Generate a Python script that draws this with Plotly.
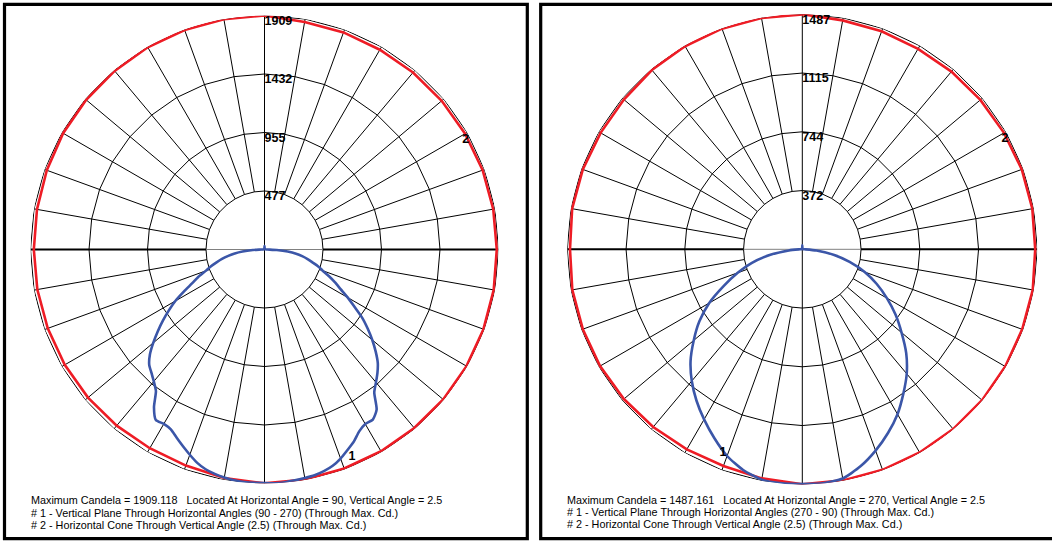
import plotly.graph_objects as go

# ---------------- data ----------------
max_cd_left = 1909.118
max_cd_right = 1487.161
ring_labels_left = ["477", "955", "1432", "1909"]
ring_labels_right = ["372", "744", "1115", "1487"]

# Curve #2 : horizontal cone through vertical angle 2.5 (angle drawn clockwise from top)
cone_angles = [0, 10, 20, 30, 40, 50, 60, 70, 80, 90, 100, 110, 120, 130, 140, 150, 160, 170,
               180, 190, 200, 210, 220, 230, 240, 250, 260, 270, 280, 290, 300, 310, 320, 330, 340, 350]
cone_cd_left = [1909, 1885, 1885, 1882, 1885, 1887, 1890, 1894, 1895, 1895, 1899, 1901, 1903, 1903,
                1901, 1901, 1901, 1905, 1908, 1893, 1876, 1872, 1876, 1880, 1882, 1882, 1882, 1882,
                1885, 1890, 1897, 1899, 1902, 1905, 1906, 1907]
cone_cd_right = [1487, 1471, 1468, 1465, 1468, 1471, 1474, 1478, 1478, 1474, 1481, 1481, 1483, 1485,
                 1485, 1485, 1485, 1485, 1487, 1472, 1459, 1462, 1468, 1474, 1478, 1478, 1478, 1470,
                 1479, 1478, 1474, 1474, 1481, 1484, 1486, 1487]

# Curve #1 : vertical plane (vertical angle 0 = nadir, 180 = zenith)
vert_angles_left = [0, 2.5, 5, 7.5, 10, 12.5, 15, 17.5, 20, 22.5, 25, 27.5, 30, 32.5, 35, 37.5, 40,
                    42.5, 45, 47.5, 50, 52.5, 55, 57.5, 60, 62.5, 65, 67.5, 70, 72.5, 75, 77.5, 80,
                    82.5, 85, 87.5, 90, 100, 110, 120, 130, 140, 150, 160, 170, 180]
plane_right_side_left = [1905, 1909, 1906, 1900, 1893, 1886, 1872, 1850, 1815, 1770, 1727, 1673, 1645,
                         1645, 1595, 1471, 1415, 1364, 1307, 1230, 1148, 1062, 975, 870, 785, 700, 635,
                         570, 505, 460, 405, 360, 312, 260, 190, 100, 25,
                         8, 5, 3, 3, 3, 3, 3, 5, 30]
plane_left_side_left = [1905, 1906, 1904, 1899, 1888, 1875, 1856, 1825, 1782, 1738, 1695, 1655, 1643,
                        1650, 1572, 1455, 1405, 1365, 1330, 1268, 1185, 1098, 1012, 925, 840, 740, 650,
                        585, 510, 460, 405, 355, 300, 245, 180, 95, 25,
                        8, 5, 3, 3, 3, 3, 3, 5, 30]

vert_angles_right = [0, 5, 10, 15, 20, 25, 30, 35, 40, 45, 50, 55, 60, 65, 70, 75, 80, 85, 90,
                     100, 110, 120, 130, 140, 150, 160, 170, 180]
plane_right_side_right = [1485, 1487, 1473, 1422, 1356, 1283, 1205, 1115, 1028, 930, 820, 720, 618,
                          520, 420, 310, 205, 90, 15, 5, 4, 3, 3, 3, 3, 3, 5, 25]
plane_left_side_right = [1485, 1486, 1480, 1446, 1392, 1318, 1243, 1168, 1088, 1000, 897, 795, 680,
                         548, 435, 330, 210, 85, 15, 5, 4, 3, 3, 3, 3, 3, 5, 25]

# curve identification labels (angle clockwise from top, candela radius)
label2_left = (61.5, 1868)
label1_left = (157.1, 1835)
label2_right = (61.5, 1459)
label1_right = (201.3, 1380)

notes_left = ["Maximum Candela = 1909.118\u00a0\u00a0\u00a0Located At Horizontal Angle = 90, Vertical Angle = 2.5",
              "# 1 - Vertical Plane Through Horizontal Angles (90 - 270) (Through Max. Cd.)",
              "# 2 - Horizontal Cone Through Vertical Angle (2.5) (Through Max. Cd.)"]
notes_right = ["Maximum Candela = 1487.161\u00a0\u00a0\u00a0Located At Horizontal Angle = 270, Vertical Angle = 2.5",
               "# 1 - Vertical Plane Through Horizontal Angles (270 - 90) (Through Max. Cd.)",
               "# 2 - Horizontal Cone Through Vertical Angle (2.5) (Through Max. Cd.)"]

# ---------------- figure ----------------
W, H = 1052, 541
RED = "#ee1c25"
BLUE = "#3b56a8"
LABEL_FONT = dict(family="Liberation Sans, Arial, sans-serif", size=12.5, color="black")
NOTE_FONT = dict(family="Liberation Sans, Arial, sans-serif", size=10.8, color="black")

fig = go.Figure()


def add_panel(sub, maxcd, ring_labels, cone_cd, vangles, side_a, side_b, lab2, lab1):
    rings = [maxcd * k / 4 for k in range(1, 5)]
    spoke_angles = list(range(0, 360, 10))
    # ring polygons
    rr, tt = [], []
    for rv in rings:
        for a in spoke_angles + [360]:
            rr.append(rv)
            tt.append(a)
        rr.append(None)
        tt.append(None)
    fig.add_trace(go.Scatterpolar(r=rr, theta=tt, mode="lines", subplot=sub,
                                  line=dict(color="black", width=1), hoverinfo="skip", showlegend=False))
    # spokes (from first ring outward)
    rr, tt = [], []
    for a in spoke_angles:
        if a in (0, 90, 180, 270):
            continue
        rr += [rings[0], maxcd, None]
        tt += [a, a, None]
    fig.add_trace(go.Scatterpolar(r=rr, theta=tt, mode="lines", subplot=sub,
                                  line=dict(color="black", width=1), hoverinfo="skip", showlegend=False))
    # vertical axis through centre
    fig.add_trace(go.Scatterpolar(r=[maxcd, 0, maxcd], theta=[0, 0, 180], mode="lines", subplot=sub,
                                  line=dict(color="black", width=1), hoverinfo="skip", showlegend=False))
    # horizontal axis: grey inside first ring, heavier outside
    fig.add_trace(go.Scatterpolar(r=[rings[0], 0, rings[0]], theta=[90, 90, 270], mode="lines", subplot=sub,
                                  line=dict(color="#808080", width=1), hoverinfo="skip", showlegend=False))
    fig.add_trace(go.Scatterpolar(r=[rings[0], maxcd, None, rings[0], maxcd], theta=[90, 90, None, 270, 270],
                                  mode="lines", subplot=sub, line=dict(color="black", width=2),
                                  hoverinfo="skip", showlegend=False))
    # horizontal cone
    fig.add_trace(go.Scatterpolar(r=cone_cd + [cone_cd[0]], theta=cone_angles + [360], mode="lines",
                                  subplot=sub, line=dict(color=RED, width=2.6), showlegend=False))
    # vertical plane
    th = [180 - v for v in vangles[::-1]] + [180 + v for v in vangles]
    rv = side_a[::-1] + side_b
    fig.add_trace(go.Scatterpolar(r=rv, theta=th, mode="lines", subplot=sub,
                                  line=dict(color=BLUE, width=2.6, shape="spline", smoothing=0.6),
                                  showlegend=False))
    # ring value labels
    fig.add_trace(go.Scatterpolar(r=rings, theta=[0] * 4, mode="text", text=ring_labels,
                                  textposition="bottom right", subplot=sub,
                                  textfont=dict(LABEL_FONT, weight="bold"), hoverinfo="skip", showlegend=False))
    # curve labels
    fig.add_trace(go.Scatterpolar(r=[lab2[1], lab1[1]], theta=[lab2[0], lab1[0]], mode="text", text=["2", "1"],
                                  textposition="middle center", subplot=sub,
                                  textfont=dict(LABEL_FONT, weight="bold"), hoverinfo="skip", showlegend=False))


add_panel("polar", max_cd_left, ring_labels_left, cone_cd_left, vert_angles_left,
          plane_right_side_left, plane_left_side_left, label2_left, label1_left)
add_panel("polar2", max_cd_right, ring_labels_right, cone_cd_right, vert_angles_right,
          plane_right_side_right, plane_left_side_right, label2_right, label1_right)


def domain(cx, cy, R):
    return dict(x=[(cx - R) / W, (cx + R) / W], y=[(H - cy - R) / H, (H - cy + R) / H])


def polar_layout(cx, cy, R, maxcd):
    return dict(domain=domain(cx, cy, R), bgcolor="rgba(0,0,0,0)",
                angularaxis=dict(rotation=90, direction="clockwise", showgrid=False, showline=False,
                                 showticklabels=False, ticks=""),
                radialaxis=dict(range=[0, maxcd], showgrid=False, showline=False,
                                showticklabels=False, ticks=""))


annotations = []
for notes, x0, ys in ((notes_left, 28.5, [500, 512.8, 525.2]), (notes_right, 564.5, [499.5, 511.8, 524.2])):
    for txt, yy in zip(notes, ys):
        annotations.append(dict(text=txt, x=x0 / W, y=1 - yy / H, xref="paper", yref="paper",
                                xanchor="left", yanchor="middle", showarrow=False, font=NOTE_FONT))

shapes = [
    dict(type="rect", xref="paper", yref="paper", x0=4.5 / W, x1=527.3 / W, y0=1 - 538.7 / H, y1=1 - 4.3 / H,
         line=dict(color="black", width=3.2)),
    dict(type="rect", xref="paper", yref="paper", x0=540.7 / W, x1=1058 / W, y0=1 - 538.7 / H, y1=1 - 4.3 / H,
         line=dict(color="black", width=3.2)),
]

fig.update_layout(
    width=W, height=H, autosize=False,
    margin=dict(l=0, r=0, t=0, b=0),
    paper_bgcolor="white", plot_bgcolor="white",
    polar=polar_layout(264.5, 249.5, 234, max_cd_left),
    polar2=polar_layout(802.3, 249.3, 235, max_cd_right),
    annotations=annotations, shapes=shapes, showlegend=False,
)

fig.write_html("out.html", config={"displayModeBar": False},
               post_script="document.body.style.margin='0';document.body.style.overflow='hidden';")
